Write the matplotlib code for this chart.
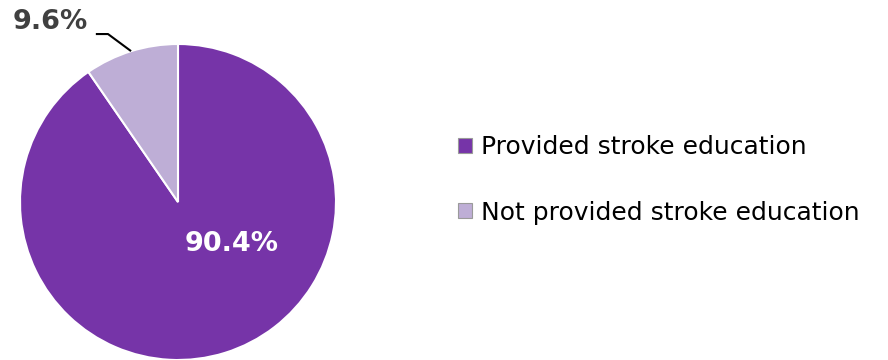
import numpy as np
import matplotlib.pyplot as plt
import matplotlib.patches as mpatches

# stroke education split
labels = ['Provided stroke education', 'Not provided stroke education']
shares = [90.4, 9.6]
colors = ['#7634A8', '#BEAED6']

fig = plt.figure(figsize=(8.88, 3.6), dpi=100)
ax = fig.add_axes([20 / 888, 0, 316 / 888, 316 / 360])

wedges, _ = ax.pie(shares, colors=colors, startangle=90, counterclock=False,
                   radius=1, wedgeprops=dict(edgecolor='white', linewidth=1.5))
ax.set_xlim(-1, 1)
ax.set_ylim(-1, 1)
ax.set_aspect('equal')
ax.axis('off')

# big slice label inside
ax.text(0.342, -0.266, '%.1f%%' % shares[0], color='white', fontsize=19.5,
        fontweight='bold', ha='center', va='center')

# small slice label outside with leader line
w = wedges[1]
mid = (w.theta1 + w.theta2) / 2.0
px, py = np.cos(np.radians(mid)), np.sin(np.radians(mid))
ax.plot([-0.52, -0.443, px], [1.063, 1.063, py], color='black', lw=1.5,
        clip_on=False, solid_capstyle='butt')
ax.text(-0.81, 1.14, '%.1f%%' % shares[1], color='#404040', fontsize=19.5,
        fontweight='bold', ha='center', va='center', clip_on=False)

handles = [mpatches.Patch(facecolor=c, edgecolor='#9a9a9a', linewidth=0.8)
           for c in colors]
fig.legend(handles, labels, loc='center left',
           bbox_to_anchor=(458 / 888, 1 - 180 / 360), frameon=False,
           fontsize=18, handlelength=0.55, handleheight=0.55,
           handletextpad=0.36, labelspacing=1.65, borderpad=0,
           borderaxespad=0)

fig.savefig('out.png', dpi=100, facecolor='white')
